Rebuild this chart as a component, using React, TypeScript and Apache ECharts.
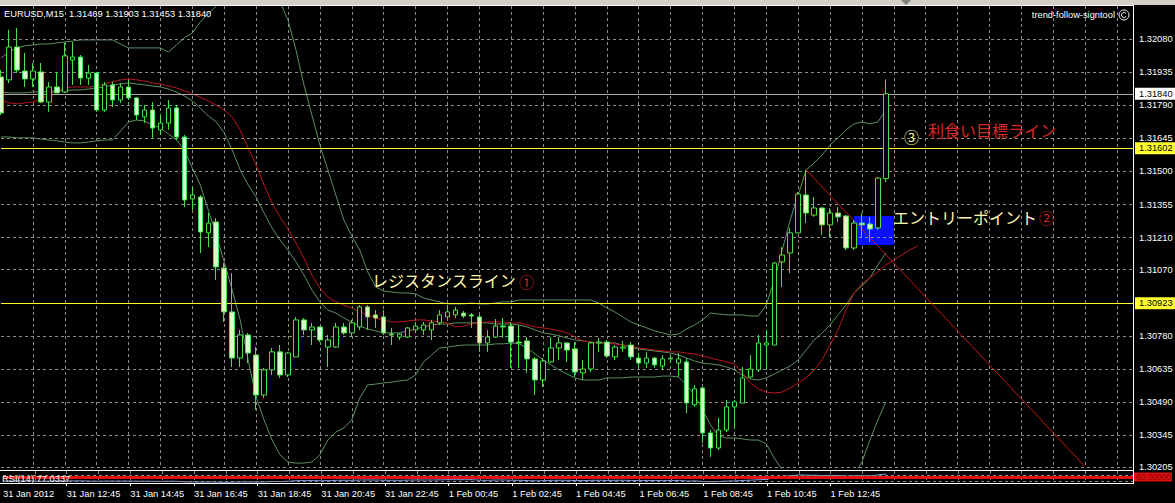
import React, { useEffect, useRef } from 'react';
import * as echarts from 'echarts';

// ---- data (EURUSD M15, bar 0 = 31 Jan 2012 10:45) ----
const opens = [1.31914,1.31901,1.32045,1.31940,1.31905,1.31936,1.31804,1.31870,1.31848,1.31988,
1.32001,1.31909,1.31931,1.31769,1.31879,1.31813,1.31870,1.31822,1.31739,1.31769,
1.31682,1.31712,1.31778,1.31651,1.31380,1.31388,1.31231,1.31279,1.31077,1.30885,
1.30683,1.30784,1.30696,1.30521,1.30631,1.30710,1.30609,1.30688,1.30850,1.30806,
1.30819,1.30731,1.30731,1.30819,1.30793,1.30819,1.30907,1.30872,1.30863,1.30788,
1.30775,1.30775,1.30806,1.30806,1.30806,1.30837,1.30863,1.30872,1.30880,1.30872,
1.30863,1.30749,1.30775,1.30823,1.30823,1.30753,1.30758,1.30679,1.30587,1.30666,
1.30727,1.30749,1.30723,1.30618,1.30635,1.30749,1.30753,1.30688,1.30727,1.30740,
1.30683,1.30661,1.30683,1.30648,1.30679,1.30661,1.30666,1.30478,1.30552,1.30355,
1.30289,1.30368,1.30469,1.30486,1.30600,1.30631,1.30740,1.30740,1.31104,1.31143,
1.31231,1.31397,1.31309,1.31340,1.31266,1.31318,1.31305,1.31165,1.31274,1.31270,
1.31253,1.31469];
const closes = [1.31756,1.32045,1.31944,1.31905,1.31940,1.31804,1.31870,1.31844,1.32006,1.32001,
1.31909,1.31931,1.31769,1.31879,1.31813,1.31870,1.31822,1.31747,1.31769,1.31690,
1.31712,1.31778,1.31651,1.31375,1.31397,1.31235,1.31274,1.31082,1.30885,1.30683,
1.30784,1.30705,1.30521,1.30631,1.30710,1.30609,1.30705,1.30850,1.30806,1.30819,
1.30762,1.30762,1.30819,1.30793,1.30837,1.30907,1.30863,1.30858,1.30793,1.30784,
1.30788,1.30815,1.30823,1.30828,1.30837,1.30872,1.30885,1.30893,1.30867,1.30867,
1.30749,1.30775,1.30823,1.30819,1.30753,1.30749,1.30679,1.30587,1.30670,1.30727,
1.30749,1.30718,1.30622,1.30635,1.30749,1.30753,1.30692,1.30731,1.30731,1.30688,
1.30661,1.30683,1.30653,1.30679,1.30683,1.30679,1.30486,1.30548,1.30355,1.30289,
1.30368,1.30469,1.30491,1.30596,1.30635,1.30749,1.30749,1.31099,1.31134,1.31231,
1.31401,1.31318,1.31340,1.31266,1.31318,1.31301,1.31165,1.31274,1.31266,1.31248,
1.31471,1.31840];
const lows = [1.31747,1.31887,1.31931,1.31870,1.31870,1.31800,1.31761,1.31844,1.31844,1.31879,
1.31879,1.31879,1.31761,1.31761,1.31782,1.31800,1.31813,1.31725,1.31712,1.31647,
1.31660,1.31682,1.31638,1.31344,1.31331,1.31143,1.31169,1.31025,1.30841,1.30644,
1.30644,1.30661,1.30456,1.30508,1.30609,1.30596,1.30600,1.30688,1.30784,1.30740,
1.30753,1.30644,1.30727,1.30784,1.30775,1.30806,1.30806,1.30815,1.30784,1.30740,
1.30762,1.30771,1.30793,1.30784,1.30762,1.30828,1.30850,1.30858,1.30858,1.30815,
1.30710,1.30710,1.30771,1.30771,1.30640,1.30640,1.30618,1.30521,1.30556,1.30661,
1.30675,1.30666,1.30600,1.30587,1.30622,1.30710,1.30683,1.30675,1.30710,1.30675,
1.30640,1.30640,1.30640,1.30631,1.30661,1.30600,1.30442,1.30469,1.30311,1.30250,
1.30280,1.30359,1.30377,1.30486,1.30596,1.30622,1.30631,1.30740,1.30994,1.31055,
1.31231,1.31274,1.31301,1.31222,1.31213,1.31279,1.31156,1.31156,1.31213,1.31191,
1.31244,1.31453];
const highs = [1.31944,1.32120,1.32128,1.32019,1.31975,1.31975,1.31892,1.31936,1.32063,1.32067,
1.32010,1.31966,1.31936,1.31892,1.31892,1.31887,1.31901,1.31826,1.31791,1.31804,
1.31747,1.31813,1.31791,1.31660,1.31432,1.31397,1.31318,1.31296,1.31099,1.31055,
1.30806,1.30793,1.30731,1.30640,1.30727,1.30740,1.30710,1.30863,1.30858,1.30837,
1.30819,1.30784,1.30837,1.30837,1.30850,1.30915,1.30915,1.30893,1.30893,1.30815,
1.30793,1.30819,1.30841,1.30841,1.30850,1.30893,1.30915,1.30907,1.30889,1.30880,
1.30872,1.30806,1.30854,1.30858,1.30841,1.30828,1.30775,1.30688,1.30683,1.30775,
1.30775,1.30753,1.30753,1.30675,1.30753,1.30771,1.30762,1.30740,1.30758,1.30753,
1.30705,1.30710,1.30688,1.30696,1.30696,1.30705,1.30683,1.30565,1.30556,1.30368,
1.30421,1.30499,1.30499,1.30644,1.30696,1.30784,1.30806,1.31104,1.31169,1.31253,
1.31410,1.31507,1.31388,1.31344,1.31340,1.31344,1.31309,1.31288,1.31318,1.31301,
1.31476,1.31903];
const bbUpper = [1.31997,1.32023,1.32041,1.32050,1.32054,1.32058,1.32058,1.32063,1.32067,1.32071,
1.32076,1.32076,1.32076,1.32076,1.32076,1.32058,1.32041,1.32041,1.32041,1.32041,
1.32041,1.32023,1.32054,1.32085,1.32106,1.32155,1.32190,1.32225,1.32269,1.32304,
1.32330,1.32347,1.32347,1.32330,1.32295,1.32242,1.32163,1.32032,1.31879,1.31747,
1.31616,1.31507,1.31397,1.31288,1.31218,1.31156,1.31060,1.30994,1.30977,1.30972,
1.30968,1.30968,1.30964,1.30946,1.30937,1.30929,1.30920,1.30920,1.30920,1.30924,
1.30920,1.30920,1.30924,1.30929,1.30929,1.30937,1.30937,1.30937,1.30937,1.30937,
1.30937,1.30937,1.30937,1.30937,1.30937,1.30924,1.30902,1.30885,1.30863,1.30841,
1.30828,1.30815,1.30802,1.30793,1.30784,1.30788,1.30810,1.30828,1.30850,1.30880,
1.30876,1.30872,1.30872,1.30872,1.30867,1.30867,1.30915,1.31025,1.31156,1.31288,
1.31397,1.31507,1.31537,1.31572,1.31616,1.31647,1.31682,1.31708,1.31717,1.31708,
1.31717,1.31769];
const bbMiddle = [1.31848,1.31844,1.31844,1.31844,1.31848,1.31848,1.31848,1.31853,1.31853,1.31857,
1.31857,1.31861,1.31866,1.31870,1.31879,1.31883,1.31888,1.31883,1.31879,1.31874,
1.31870,1.31861,1.31848,1.31831,1.31809,1.31778,1.31743,1.31717,1.31669,1.31594,
1.31507,1.31441,1.31388,1.31318,1.31253,1.31200,1.31156,1.31104,1.31047,1.30981,
1.30929,1.30893,1.30880,1.30858,1.30841,1.30823,1.30810,1.30802,1.30793,1.30793,
1.30793,1.30802,1.30810,1.30819,1.30828,1.30832,1.30832,1.30837,1.30837,1.30837,
1.30837,1.30837,1.30832,1.30832,1.30832,1.30828,1.30819,1.30806,1.30793,1.30788,
1.30780,1.30771,1.30762,1.30758,1.30753,1.30749,1.30749,1.30749,1.30740,1.30731,
1.30723,1.30718,1.30714,1.30710,1.30705,1.30696,1.30683,1.30670,1.30661,1.30657,
1.30653,1.30644,1.30631,1.30609,1.30591,1.30587,1.30596,1.30613,1.30631,1.30648,
1.30675,1.30718,1.30762,1.30793,1.30828,1.30872,1.30915,1.30968,1.30999,1.31034,
1.31091,1.31143];
const bbLower = [1.31651,1.31651,1.31647,1.31647,1.31647,1.31642,1.31638,1.31634,1.31629,1.31625,
1.31625,1.31629,1.31634,1.31638,1.31638,1.31677,1.31717,1.31725,1.31721,1.31704,
1.31690,1.31664,1.31638,1.31594,1.31515,1.31441,1.31331,1.31222,1.31104,1.30981,
1.30850,1.30675,1.30512,1.30412,1.30324,1.30259,1.30228,1.30223,1.30223,1.30228,
1.30259,1.30324,1.30359,1.30377,1.30412,1.30508,1.30565,1.30569,1.30574,1.30578,
1.30583,1.30587,1.30609,1.30666,1.30696,1.30727,1.30731,1.30736,1.30740,1.30740,
1.30740,1.30740,1.30745,1.30745,1.30749,1.30745,1.30727,1.30701,1.30675,1.30653,
1.30631,1.30613,1.30596,1.30587,1.30587,1.30587,1.30596,1.30596,1.30596,1.30600,
1.30600,1.30600,1.30600,1.30604,1.30604,1.30600,1.30565,1.30521,1.30456,1.30390,
1.30342,1.30333,1.30333,1.30329,1.30324,1.30324,1.30307,1.30245,1.30193,1.30105,
1.30040,1.29996,1.29974,1.29983,1.30018,1.30062,1.30114,1.30171,1.30228,1.30324,
1.30412,1.30491];
const maRed = [1.31813,1.31800,1.31796,1.31800,1.31804,1.31817,1.31835,1.31853,1.31866,1.31870,
1.31870,1.31870,1.31874,1.31883,1.31892,1.31901,1.31905,1.31901,1.31896,1.31888,
1.31883,1.31874,1.31866,1.31853,1.31839,1.31826,1.31809,1.31791,1.31769,1.31739,
1.31682,1.31603,1.31528,1.31441,1.31362,1.31301,1.31248,1.31187,1.31121,1.31047,
1.30990,1.30950,1.30929,1.30915,1.30902,1.30885,1.30872,1.30858,1.30850,1.30841,
1.30841,1.30845,1.30850,1.30850,1.30845,1.30841,1.30837,1.30819,1.30823,1.30832,
1.30837,1.30841,1.30841,1.30841,1.30837,1.30837,1.30828,1.30819,1.30815,1.30810,
1.30802,1.30793,1.30775,1.30758,1.30753,1.30749,1.30749,1.30745,1.30740,1.30736,
1.30727,1.30723,1.30718,1.30714,1.30710,1.30710,1.30705,1.30701,1.30692,1.30683,
1.30675,1.30666,1.30657,1.30618,1.30574,1.30548,1.30534,1.30530,1.30534,1.30552,
1.30574,1.30596,1.30631,1.30675,1.30740,1.30806,1.30893,1.30968,1.31007,1.31034,
1.31060,1.31091,1.31112,1.31134,1.31156,1.31174];
const rsiValues = [33,33,34,33,33,32,33,33,34,34,34,33,32,33,33,33,33,32,32,31,
31,32,31,27,27,26,27,26,25,26,27,27,26,28,30,30,32,36,36,36,
35,36,38,38,38,40,40,40,38,38,38,39,40,40,40,41,42,42,42,42,
38,38,40,40,38,38,36,34,36,38,38,38,36,36,38,38,37,38,38,37,
36,37,36,37,37,37,33,34,30,28,30,33,34,37,39,42,44,60,64,68,
74,72,72,70,71,70,65,68,68,67,74,80];

const timeLabels = ['31 Jan 2012','31 Jan 12:45','31 Jan 14:45','31 Jan 16:45','31 Jan 18:45',
  '31 Jan 20:45','31 Jan 22:45','1 Feb 00:45','1 Feb 02:45','1 Feb 04:45','1 Feb 06:45',
  '1 Feb 08:45','1 Feb 10:45','1 Feb 12:45'];
const priceTicks = [1.30205,1.30345,1.30490,1.30635,1.30780,1.31070,1.31210,1.31355,1.31500,
  1.31645,1.31790,1.31935,1.32080];
const bidPrice = 1.31840;
const targetPrice = 1.31602;
const resistancePrice = 1.30923;
const rsiLevel = 60;
const trendFrom = [101, 1.31507];
const trendTo = [136, 1.30207];
const entryFrom = [107, 1.31305];
const entryTo = [112, 1.31178];
const headerText = 'EURUSD,M15  1.31469 1.31903 1.31453 1.31840';
const indicatorName = 'trend-follow-signtool';
const rsiName = 'RSI(14) 77.0337';

const SLOTS = 143;
const Y_MIN = 1.302015;
const Y_MAX = 1.322245;

const UI = "'Liberation Sans',Arial,sans-serif";
const FS = 9.3;
const JP = "'Noto Sans CJK JP','Noto Sans CJK SC',sans-serif";

export default function App() {
  const ref = useRef<HTMLDivElement>(null);
  useEffect(() => {
    const chart = echarts.init(ref.current!, null, { renderer: 'svg' });
    const cats = Array.from({ length: SLOTS }, (_, i) => String(i));
    const candles = opens.map((o, i) => [o, closes[i], lows[i], highs[i]]);
    const gridDash = { color: '#8c8c8c', type: [3, 3] as any, width: 1 };
    const bandColor = '#5e8f63';

    const tickLines = priceTicks.map((v) => ({
      yAxis: v,
      lineStyle: gridDash,
      label: { show: true, position: 'end', formatter: v.toFixed(5), color: '#ffffff', fontSize: FS, fontFamily: UI, distance: 6 },
    }));
    const boxLabel = (v: number, bg: string, fg: string) => ({
      show: true, position: 'end', formatter: v.toFixed(5), color: fg, backgroundColor: bg,
      fontSize: FS, fontFamily: UI, distance: 2, padding: [2, 3, 1, 4],
    });

    const option: any = {
      animation: false,
      backgroundColor: '#000000',
      grid: [
        { left: 1, right: 42, top: 6, height: 462 },
        { left: 1, right: 42, top: 471, height: 12 },
      ],
      xAxis: [
        {
          type: 'category', data: cats, boundaryGap: false, gridIndex: 0,
          axisLine: { show: false }, axisTick: { show: false }, axisLabel: { show: false },
          splitLine: { show: true, interval: (i: number) => i % 4 === 0 && i > 0, lineStyle: gridDash },
        },
        {
          type: 'category', data: cats, boundaryGap: false, gridIndex: 1,
          axisLine: { show: false },
          axisTick: { show: true, interval: (i: number) => i % 8 === 0 && i / 8 < timeLabels.length && i > 0, length: 3, lineStyle: { color: '#ffffff' } },
          axisLabel: {
            show: true,
            interval: (i: number) => i % 8 === 0 && i / 8 < timeLabels.length,
            formatter: (_v: string, i: number) => timeLabels[i / 8] ?? '',
            color: '#ffffff', fontSize: FS, fontFamily: UI, align: 'left', margin: 6,
          },
          splitLine: { show: true, interval: (i: number) => i % 4 === 0 && i > 0, lineStyle: gridDash },
        },
      ],
      yAxis: [
        { type: 'value', gridIndex: 0, min: Y_MIN, max: Y_MAX, show: false, splitLine: { show: false } },
        { type: 'value', gridIndex: 1, min: 20, max: 100, show: false, splitLine: { show: false } },
      ],
      series: [
        {
          name: 'grid', type: 'line', data: bbMiddle.map(() => null), z: 1, silent: true, symbol: 'none',
          markLine: { silent: true, symbol: ['none', 'none'], animation: false, precision: 5, data: tickLines },
          markArea: {
            silent: true,
            itemStyle: { color: '#0a10ff', opacity: 1 },
            data: [[{ coord: entryFrom }, { coord: entryTo }]],
          },
        },
        { name: 'upper', type: 'line', data: bbUpper, symbol: 'none', z: 3, lineStyle: { color: bandColor, width: 1 } },
        { name: 'middle', type: 'line', data: bbMiddle, symbol: 'none', z: 3, lineStyle: { color: bandColor, width: 1 } },
        { name: 'lower', type: 'line', data: bbLower, symbol: 'none', z: 3, lineStyle: { color: bandColor, width: 1 } },
        { name: 'ma', type: 'line', data: maRed, symbol: 'none', z: 3, lineStyle: { color: '#b8161c', width: 1 } },
        {
          name: 'EURUSD', type: 'candlestick', data: candles, z: 5, barWidth: 5,
          itemStyle: { color: '#000000', color0: '#dcf8cf', borderColor: '#48e048', borderColor0: '#48e048', borderWidth: 1 },
          markLine: {
            silent: true, symbol: ['none', 'none'], animation: false, precision: 5,
            data: [
              { yAxis: bidPrice, lineStyle: { color: '#a8a8a8', type: 'solid', width: 1 }, label: boxLabel(bidPrice, '#ffffff', '#000000') },
              { yAxis: targetPrice, lineStyle: { color: '#ffff30', type: 'solid', width: 1 }, label: boxLabel(targetPrice, '#ffff30', '#000000') },
              { yAxis: resistancePrice, lineStyle: { color: '#ffff30', type: 'solid', width: 1 }, label: boxLabel(resistancePrice, '#ffff30', '#000000') },
              [
                { coord: trendFrom, lineStyle: { color: '#c01818', type: 'solid', width: 1 }, label: { show: false } },
                { coord: trendTo },
              ],
            ],
          },
        },
        {
          name: 'RSI', type: 'line', data: rsiValues, xAxisIndex: 1, yAxisIndex: 1, symbol: 'none', z: 3,
          lineStyle: { color: '#8a9ee8', width: 1 },
          markLine: {
            silent: true, symbol: ['none', 'none'], animation: false, precision: 5,
            data: [
              { yAxis: 70, lineStyle: gridDash, label: { show: false } },
              { yAxis: 30, lineStyle: gridDash, label: { show: false } },
              { yAxis: rsiLevel, lineStyle: { color: '#e01010', type: 'solid', width: 3 }, label: { show: true, position: 'end', formatter: rsiLevel.toFixed(5), color: '#8a0000', backgroundColor: '#e01010', fontSize: 8.4, fontFamily: UI, distance: 1, padding: [1, 1, 0, 2] } },
            ],
          },
        },
      ],
      graphic: [
        { type: 'rect', shape: { x: 0, y: 0, width: 1175, height: 5 }, style: { fill: '#d4d0c8' }, z: 10 },
        { type: 'polygon', shape: { points: [[901, 0], [911, 0], [906, 5]] }, style: { fill: '#808080' }, z: 11 },
        { type: 'line', shape: { x1: 0, y1: 5.5, x2: 1134, y2: 5.5 }, style: { stroke: '#ffffff', lineWidth: 1 }, z: 10 },
        { type: 'line', shape: { x1: 1133.5, y1: 5, x2: 1133.5, y2: 484 }, style: { stroke: '#ffffff', lineWidth: 1 }, z: 10 },
        { type: 'line', shape: { x1: 0, y1: 470.5, x2: 1134, y2: 470.5 }, style: { stroke: '#ffffff', lineWidth: 1 }, z: 10 },
        { type: 'line', shape: { x1: 0, y1: 483.5, x2: 1134, y2: 483.5 }, style: { stroke: '#ffffff', lineWidth: 1 }, z: 10 },
        { type: 'text', x: 4, y: 14, style: { text: headerText, fill: '#ffffff', font: `${FS}px ${UI}`, textVerticalAlign: 'middle' }, z: 12 },
        { type: 'text', x: 1115, y: 15, style: { text: indicatorName, fill: '#ffffff', font: `${FS}px ${UI}`, textAlign: 'right', textVerticalAlign: 'middle' }, z: 12 },
        { type: 'circle', shape: { cx: 1124, cy: 15, r: 5 }, style: { fill: 'none', stroke: '#ffffff', lineWidth: 1 }, z: 12 },
        { type: 'arc', shape: { cx: 1124, cy: 15, r: 2.5, startAngle: 0.6, endAngle: 5.7 }, style: { fill: 'none', stroke: '#ffffff', lineWidth: 1 }, z: 12 },
        { type: 'text', x: 2, y: 479, style: { text: rsiName, fill: '#ffffff', font: `${FS}px ${UI}`, textVerticalAlign: 'middle' }, z: 12 },
        // annotations
        { type: 'text', x: 904, y: 136, style: { text: '③', fill: '#fff8a0', font: `15px ${JP}`, textVerticalAlign: 'middle' }, z: 12 },
        { type: 'text', x: 928, y: 130, style: { text: '利食い目標ライン', fill: '#d82828', font: `16px ${JP}`, textVerticalAlign: 'middle' }, z: 12 },
        { type: 'text', x: 893, y: 217, style: { text: 'エントリーポイント', fill: '#fff8b0', font: `16px ${JP}`, textVerticalAlign: 'middle' }, z: 12 },
        { type: 'text', x: 1039, y: 217, style: { text: '②', fill: '#d82828', font: `15px ${JP}`, textVerticalAlign: 'middle' }, z: 12 },
        { type: 'text', x: 372, y: 280, style: { text: 'レジスタンスライン', fill: '#fff8b0', font: `16px ${JP}`, textVerticalAlign: 'middle' }, z: 12 },
        { type: 'text', x: 519, y: 281, style: { text: '①', fill: '#c02828', font: `15px ${JP}`, textVerticalAlign: 'middle' }, z: 12 },
      ],
    };
    chart.setOption(option);
    return () => chart.dispose();
  }, []);
  return <div ref={ref} style={{ position: 'fixed', left: 0, top: 0, width: 1175, height: 503, background: '#000' }} />;
}
